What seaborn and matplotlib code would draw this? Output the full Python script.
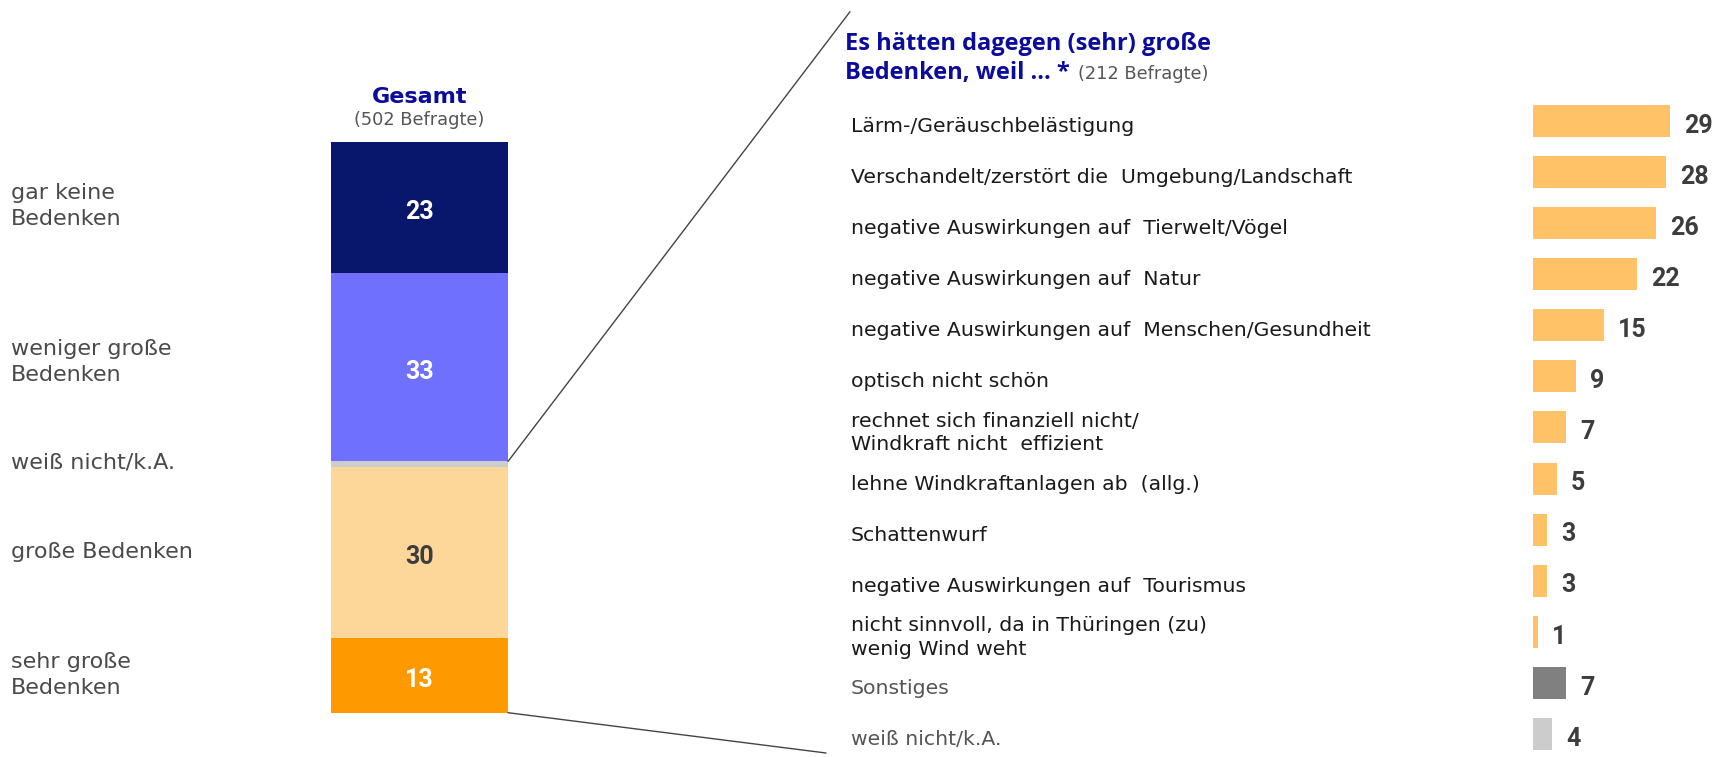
import numpy as np
import pandas as pd
import matplotlib
matplotlib.use("Agg")
import matplotlib.pyplot as plt
import seaborn as sns
from matplotlib.patches import ConnectionPatch

# ---------------- data ----------------
stack_labels = ["gar keine\nBedenken", "weniger große\nBedenken", "weiß nicht/k.A.",
                "große Bedenken", "sehr große\nBedenken"]
stack_values = [23, 33, 1, 30, 13]
stack_colors = ["#08176C", "#7070FF", "#CCCCCC", "#FDD699", "#FF9900"]
stack_text_colors = ["white", "white", None, "#3d3d3d", "white"]

reason_labels = [
    "Lärm-/Geräuschbelästigung",
    "Verschandelt/zerstört die  Umgebung/Landschaft",
    "negative Auswirkungen auf  Tierwelt/Vögel",
    "negative Auswirkungen auf  Natur",
    "negative Auswirkungen auf  Menschen/Gesundheit",
    "optisch nicht schön",
    "rechnet sich finanziell nicht/\nWindkraft nicht  effizient",
    "lehne Windkraftanlagen ab  (allg.)",
    "Schattenwurf",
    "negative Auswirkungen auf  Tourismus",
    "nicht sinnvoll, da in Thüringen (zu)\nwenig Wind weht",
    "Sonstiges",
    "weiß nicht/k.A.",
]
reason_values = [29, 28, 26, 22, 15, 9, 7, 5, 3, 3, 1, 7, 4]
reason_colors = ["#FFC266"] * 11 + ["#808080", "#CCCCCC"]
reason_text_colors = ["#1a1a1a"] * 11 + ["#555555", "#555555"]

title_lines = ["Es hätten dagegen (sehr) große", "Bedenken, weil ... *"]
title_note = "(212 Befragte)"
total_title = "Gesamt"
total_note = "(502 Befragte)"

# ---------------- style ----------------
sns.set_theme(style="white")
plt.rcParams['font.family'] = ['DejaVu Sans']
NUMFONT = ['Roboto', 'DejaVu Sans']
TITLEFONT = ['Open Sans', 'DejaVu Sans']

BLUE = "#0B0B9E"
NUM = "#3d3d3d"
W, H = 1712, 757
DPI = 100
PT = 72 / DPI  # points per pixel
fig = plt.figure(figsize=(W / DPI, H / DPI), dpi=DPI)
fig.patch.set_facecolor("white")


def fy(py):
    return 1 - py / H


# ---------------- left stacked bar ----------------
bar_top, bar_bot = 141.7, 712.7
axL = fig.add_axes([331 / W, fy(bar_bot), 177 / W, (bar_bot - bar_top) / H])
cum = np.cumsum(stack_values)
for i in reversed(range(len(stack_values))):
    sns.barplot(x=[total_title], y=[cum[i]], color=stack_colors[i], width=1.0,
                saturation=1, edgecolor="none", linewidth=0, ax=axL)
axL.set_xlim(-0.5, 0.5)
axL.set_ylim(100, 0)
axL.axis("off")

centers = cum - np.array(stack_values) / 2
for v, c, tc in zip(stack_values, centers, stack_text_colors):
    if tc is None:
        continue
    axL.annotate(f"{v}", xy=(0, c), xytext=(0, -11.5 * PT), textcoords="offset points",
                 ha="center", va="baseline", color=tc, fontsize=18,
                 fontweight="bold", family=NUMFONT)

# last-line baselines of the left labels (in bar-axis units) and line step in px
label_baselines = [14.6, 41.9, 57.3, 72.96, 96.7]
left_step = 25.8
for lab, p in zip(stack_labels, label_baselines):
    lines = lab.split("\n")
    k = len(lines)
    for j, line in enumerate(lines):
        axL.annotate(line, xy=(0, p), xycoords=("figure fraction", "data"),
                     xytext=(11 * PT, -(j - (k - 1)) * left_step * PT),
                     textcoords="offset points", ha="left", va="baseline",
                     fontsize=16, color="#4a4a4a", annotation_clip=False)

fig.text(419.5 / W, fy(103.3), total_title, ha="center", va="baseline",
         fontsize=16, fontweight="bold", color=BLUE)
fig.text(419.5 / W, fy(125), total_note, ha="center", va="baseline",
         fontsize=12.8, color="#555555")

# ---------------- right bar chart ----------------
row_h = 51.08
first_c = 121.0
n = len(reason_values)
r_top = first_c - row_h / 2
px_per_unit = 4.74
axR = fig.add_axes([1533 / W, fy(r_top + n * row_h), 30 * px_per_unit / W, n * row_h / H])
df = pd.DataFrame({"label": reason_labels, "value": reason_values})
sns.barplot(data=df, x="value", y="label", hue="label", palette=reason_colors,
            orient="h", width=32 / row_h, saturation=1, legend=False,
            edgecolor="none", linewidth=0, ax=axR)
axR.set_xlim(0, 30)
axR.set_ylim(n - 0.5, -0.5)
axR.axis("off")

right_step = 23.6
for i, (lab, v, tc) in enumerate(zip(reason_labels, reason_values, reason_text_colors)):
    lines = lab.split("\n")
    k = len(lines)
    for j, line in enumerate(lines):
        off = 11.0 + (j - (k - 1) / 2) * right_step
        axR.annotate(line, xy=(851 / W, i), xycoords=("figure fraction", "data"),
                     xytext=(0, -off * PT), textcoords="offset points",
                     ha="left", va="baseline", fontsize=14.7, color=tc,
                     annotation_clip=False)
    axR.annotate(f"{v}", xy=(v, i), xytext=(14 * PT, -11.7 * PT), textcoords="offset points",
                 ha="left", va="baseline", fontsize=18, fontweight="bold", color=NUM,
                 family=NUMFONT, annotation_clip=False)

# title
fig.text(845 / W, fy(50), title_lines[0], ha="left", va="baseline",
         fontsize=17, fontweight="bold", color=BLUE, family=TITLEFONT)
t2 = fig.text(845 / W, fy(79), title_lines[1], ha="left", va="baseline",
              fontsize=17, fontweight="bold", color=BLUE, family=TITLEFONT)
r = fig.canvas.get_renderer()
bb = t2.get_window_extent(renderer=r)
fig.text((bb.x1 + 8) / W, fy(79), title_note, ha="left", va="baseline",
         fontsize=12.8, color="#555555")

# connector lines
for ya, end in [(cum[1], (850, 11.7)), (100, (826, 753))]:
    con = ConnectionPatch(xyA=(0.5, ya), coordsA=axL.transData,
                          xyB=(end[0] / W, fy(end[1])), coordsB=fig.transFigure,
                          color="#444444", lw=1.0)
    fig.add_artist(con)

fig.savefig("out.png", dpi=DPI, facecolor="white")
